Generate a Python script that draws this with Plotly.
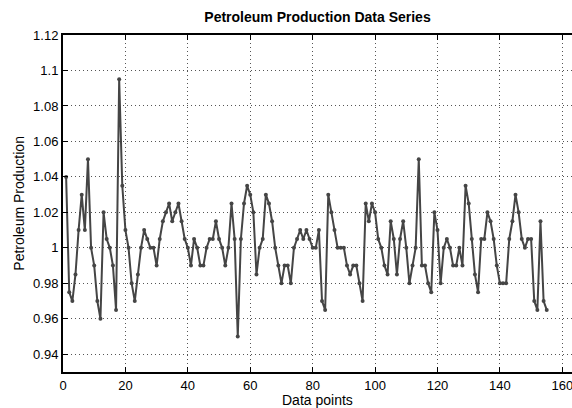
import plotly.graph_objects as go

production = [
    1.040, 0.975, 0.970, 0.985, 1.010, 1.030, 1.010, 1.050, 1.000, 0.990,
    0.970, 0.960, 1.020, 1.005, 1.000, 0.990, 0.965, 1.095, 1.035, 1.010,
    1.000, 0.980, 0.970, 0.985, 1.000, 1.010, 1.005, 1.000, 1.000, 0.990,
    1.005, 1.015, 1.020, 1.025, 1.015, 1.020, 1.025, 1.015, 1.005, 1.000,
    0.990, 1.005, 1.000, 0.990, 0.990, 1.000, 1.005, 1.005, 1.015, 1.005,
    1.000, 0.990, 1.000, 1.025, 1.005, 0.950, 1.005, 1.025, 1.035, 1.030,
    1.020, 0.985, 1.000, 1.005, 1.030, 1.025, 1.015, 1.000, 0.990, 0.980,
    0.990, 0.990, 0.980, 1.000, 1.005, 1.010, 1.005, 1.010, 1.005, 1.000,
    1.000, 1.010, 0.970, 0.965, 1.030, 1.020, 1.010, 1.000, 1.000, 1.000,
    0.990, 0.985, 0.990, 0.990, 0.980, 0.970, 1.025, 1.015, 1.025, 1.020,
    1.005, 1.000, 0.990, 0.985, 1.015, 1.005, 0.985, 1.005, 1.015, 1.000,
    0.980, 0.990, 1.000, 1.050, 0.990, 0.990, 0.980, 0.975, 1.020, 1.010,
    0.980, 1.000, 1.005, 1.000, 0.990, 0.990, 1.000, 0.990, 1.035, 1.025,
    1.005, 0.985, 0.975, 1.005, 1.005, 1.020, 1.015, 1.005, 0.990, 0.980,
    0.980, 0.980, 1.005, 1.015, 1.030, 1.020, 1.005, 1.000, 1.005, 1.005,
    0.970, 0.965, 1.015, 0.970, 0.965,
]
data_points = list(range(1, len(production) + 1))

x_tick_vals = [0, 20, 40, 60, 80, 100, 120, 140, 160]
y_tick_vals = [0.94, 0.96, 0.98, 1.00, 1.02, 1.04, 1.06, 1.08, 1.10, 1.12]
y_tick_text = ["0.94", "0.96", "0.98", "1", "1.02", "1.04", "1.06", "1.08", "1.1", "1.12"]

LINE = "#454545"
FONT = "Liberation Sans, Arial, sans-serif"

fig = go.Figure()
fig.add_trace(go.Scatter(
    x=data_points, y=production, mode="lines+markers",
    line=dict(color=LINE, width=2),
    marker=dict(color=LINE, size=4),
    showlegend=False, hoverinfo="skip",
))

fig.update_layout(
    width=572, height=408,
    margin=dict(l=63, r=0, t=35, b=36),
    paper_bgcolor="white", plot_bgcolor="white",
    title=dict(text="<b>Petroleum Production Data Series</b>", xref="paper", x=0.5, xanchor="center",
               yref="container", y=0.958, yanchor="middle",
               font=dict(family=FONT, size=14, color="black")),
    font=dict(family=FONT, size=13, color="black"),
    annotations=[
        dict(text="Data points", xref="paper", yref="paper", x=0.5, y=-0.083,
             xanchor="center", yanchor="middle", showarrow=False,
             font=dict(family=FONT, size=14, color="black")),
        dict(text="Petroleum Production", xref="paper", yref="paper", x=-0.088, y=0.5,
             xanchor="center", yanchor="middle", showarrow=False, textangle=-90,
             font=dict(family=FONT, size=14, color="black")),
    ],
)
fig.update_xaxes(
    range=[0, 163.1], tickvals=x_tick_vals, automargin=False, ticklabeloverflow="allow",
    showline=True, linecolor="black", linewidth=2, mirror="ticks",
    ticks="inside", ticklen=5, tickcolor="black", tickwidth=1,
    showgrid=True, gridcolor="#555555", gridwidth=1, griddash="1px,3px",
    zeroline=False,
    tickfont=dict(family=FONT, size=13, color="black"),
)
fig.update_yaxes(
    range=[0.93, 1.12], tickvals=y_tick_vals, ticktext=y_tick_text, automargin=False,
    showline=True, linecolor="black", linewidth=2, mirror=False,
    ticks="inside", ticklen=5, tickcolor="black", tickwidth=1,
    showgrid=True, gridcolor="#555555", gridwidth=1, griddash="1px,3px",
    zeroline=False,
    tickfont=dict(family=FONT, size=13, color="black"),
)

fig.write_html(
    "out.html",
    config={"displayModeBar": False},
    post_script="document.body.style.margin='0';document.body.style.overflow='hidden';",
)
